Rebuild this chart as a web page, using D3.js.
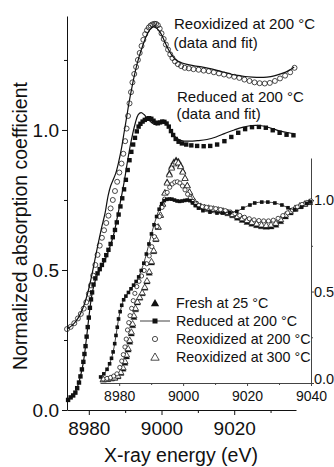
<!DOCTYPE html>
<html>
<head>
<meta charset="utf-8">
<script src="https://cdn.jsdelivr.net/npm/d3@7"></script>
<style>
  html, body { margin: 0; padding: 0; background: #fff; }
  svg { display: block; }
</style>
</head>
<body>
<svg id="chart" width="334" height="467"></svg>
<script>
// ---------- Main panel: Cu K-edge XANES, data (markers) and fits (lines) ----------
// [energy (eV), normalized absorption]
const reducedData = [
  [8974.3,0.036],[8975.0,0.045],[8975.7,0.052],[8976.3,0.062],[8976.8,0.078],[8977.3,0.098],
  [8977.7,0.12],[8978.1,0.145],[8978.5,0.172],[8978.8,0.2],[8979.1,0.228],[8979.4,0.262],
  [8979.7,0.296],[8980.0,0.33],[8980.3,0.365],[8980.6,0.395],[8980.9,0.42],[8981.3,0.448],
  [8981.8,0.47],[8982.4,0.488],[8983.0,0.503],[8983.6,0.518],[8984.2,0.535],[8984.8,0.553],
  [8985.4,0.572],[8986.0,0.593],[8986.6,0.617],[8987.2,0.643],[8987.7,0.67],[8988.2,0.698],
  [8988.7,0.727],[8989.2,0.756],[8989.7,0.788],[8990.2,0.822],[8990.7,0.857],[8991.2,0.892],
  [8991.7,0.922],[8992.2,0.948],[8992.7,0.972],[8993.2,0.995],[8993.7,1.012],[8994.2,1.022],
  [8994.8,1.03],[8995.4,1.036],[8996.0,1.04],[8996.6,1.042],[8997.2,1.04],[8997.8,1.033],
  [8998.4,1.026],[8999.0,1.024],[8999.6,1.027],[9000.2,1.03],[9000.8,1.029],[9001.4,1.023],
  [9002.0,1.012],[9002.6,0.996],[9003.2,0.982],[9003.9,0.968],[9004.7,0.958],[9005.6,0.952],
  [9006.8,0.948],[9008.2,0.945],[9009.8,0.943],[9011.6,0.942],[9013.4,0.943],[9015.3,0.948],
  [9017.3,0.96],[9019.2,0.975],[9021.1,0.99],[9023.0,1.003],[9024.9,1.01],[9026.8,1.011],
  [9028.7,1.008],[9030.6,0.999],[9032.5,0.99],[9034.4,0.983],[9036.3,0.981]
];
const reducedFit = [
  [8974.0,0.034],[8975.5,0.05],[8976.5,0.07],[8977.5,0.11],[8978.5,0.17],[8979.3,0.25],
  [8980.0,0.33],[8980.7,0.4],[8981.4,0.445],[8982.2,0.478],[8983.2,0.505],[8984.4,0.535],
  [8985.6,0.575],[8986.8,0.625],[8987.8,0.685],[8988.8,0.75],[8989.8,0.82],[8990.8,0.9],
  [8991.8,0.97],[8992.8,1.025],[8993.6,1.055],[8994.4,1.062],[8995.2,1.055],[8996.2,1.04],
  [8997.4,1.025],[8998.6,1.018],[8999.8,1.025],[9000.8,1.028],[9001.8,1.017],[9002.8,0.995],
  [9004.0,0.972],[9005.5,0.962],[9007.5,0.96],[9010.0,0.962],[9012.5,0.966],[9015.0,0.975],
  [9017.5,0.988],[9020.0,1.0],[9022.5,1.01],[9025.0,1.016],[9027.5,1.015],[9030.0,1.007],
  [9032.5,0.997],[9035.0,0.99],[9036.5,0.987]
];
const reoxData = [
  [8974.0,0.289],[8975.0,0.297],[8976.0,0.31],[8977.0,0.327],[8977.8,0.343],[8978.6,0.362],
  [8979.3,0.385],[8980.0,0.415],[8980.6,0.445],[8981.2,0.48],[8981.8,0.518],[8982.4,0.554],
  [8983.0,0.587],[8983.6,0.615],[8984.2,0.642],[8984.8,0.668],[8985.4,0.694],[8986.0,0.72],
  [8986.6,0.75],[8987.2,0.782],[8987.8,0.815],[8988.4,0.848],[8989.0,0.88],[8989.5,0.915],
  [8990.0,0.96],[8990.4,1.005],[8990.8,1.05],[8991.2,1.095],[8991.6,1.135],[8992.0,1.17],
  [8992.5,1.2],[8993.0,1.225],[8993.5,1.25],[8994.0,1.275],[8994.5,1.3],[8995.0,1.322],
  [8995.5,1.342],[8996.0,1.356],[8996.5,1.366],[8997.0,1.373],[8997.5,1.377],[8998.0,1.379],
  [8998.5,1.379],[8999.0,1.374],[8999.5,1.362],[9000.0,1.345],[9000.6,1.325],[9001.2,1.305],
  [9001.8,1.287],[9002.4,1.27],[9003.0,1.257],[9003.7,1.245],[9004.5,1.235],[9005.4,1.228],
  [9006.4,1.222],[9007.5,1.22],[9008.8,1.217],[9010.2,1.215],[9011.6,1.212],[9013.0,1.21],
  [9014.4,1.206],[9015.8,1.202],[9017.2,1.198],[9018.6,1.194],[9020.0,1.19],[9021.4,1.186],
  [9022.8,1.18],[9024.2,1.175],[9025.6,1.17],[9027.0,1.167],[9028.4,1.166],[9029.8,1.168],
  [9031.2,1.175],[9032.6,1.184],[9034.0,1.194],[9035.4,1.206],[9036.6,1.222]
];
const reoxFit = [
  [8974.0,0.289],[8975.5,0.303],[8977.0,0.327],[8978.5,0.368],[8979.5,0.408],[8980.5,0.462],
  [8981.5,0.525],[8982.5,0.59],[8983.5,0.65],[8984.5,0.705],[8985.3,0.765],[8986.0,0.8],
  [8986.7,0.822],[8987.4,0.845],[8988.2,0.885],[8989.0,0.935],[8989.7,0.99],[8990.4,1.045],
  [8991.1,1.1],[8991.9,1.155],[8992.8,1.21],[8993.8,1.26],[8994.8,1.3],[8995.8,1.335],
  [8996.8,1.358],[8997.8,1.368],[8998.8,1.362],[8999.8,1.345],[9000.8,1.318],[9001.8,1.29],
  [9002.8,1.268],[9004.0,1.25],[9005.5,1.24],[9007.0,1.234],[9009.0,1.229],[9011.0,1.225],
  [9013.0,1.22],[9015.0,1.214],[9017.0,1.207],[9019.0,1.2],[9021.0,1.195],[9023.0,1.191],
  [9025.0,1.189],[9027.0,1.188],[9029.0,1.189],[9031.0,1.193],[9033.0,1.201],[9035.0,1.212],
  [9036.5,1.225]
];

// ---------- Inset: four treatments ----------
const insetReduced = [
  [8974.2,0.033],[8975.2,0.05],[8976.2,0.075],[8977.0,0.105],[8977.6,0.135],[8978.1,0.17],
  [8978.6,0.215],[8979.0,0.26],[8979.4,0.305],[8979.8,0.35],[8980.3,0.39],[8980.8,0.425],
  [8981.4,0.455],[8982.1,0.475],[8982.9,0.495],[8983.7,0.515],[8984.5,0.535],[8985.3,0.555],
  [8986.1,0.58],[8986.9,0.615],[8987.7,0.655],[8988.5,0.705],[8989.3,0.76],[8990.1,0.815],
  [8990.9,0.865],[8991.7,0.91],[8992.5,0.95],[8993.3,0.98],[8994.1,0.997],[8994.9,1.004],
  [8995.7,1.006],[8996.5,1.005],[8997.3,1.0],[8998.1,0.995],[8998.9,0.993],[8999.7,0.995],
  [9000.5,0.998],[9001.3,1.0],[9002.1,0.997],[9002.9,0.985],[9003.8,0.97],[9004.8,0.956],
  [9006.2,0.942],[9008.4,0.934],[9010.6,0.929],[9012.4,0.929],[9014.6,0.932],[9016.8,0.938],
  [9018.7,0.956],[9020.9,0.973],[9022.4,0.984],[9024.6,0.989],[9026.5,0.989],[9028.7,0.984],
  [9030.9,0.973],[9032.8,0.958],[9034.9,0.948],[9037.1,0.962],[9038.7,0.982],[9039.8,0.99]
];
const insetFresh = [
  [8975.0,0.018],[8976.3,0.02],[8977.5,0.024],[8978.6,0.028],[8979.6,0.036],[8980.5,0.054],
  [8981.2,0.078],[8981.8,0.11],[8982.3,0.145],[8982.8,0.182],[8983.3,0.225],[8983.8,0.27],
  [8984.2,0.315],[8984.6,0.36],[8985.1,0.402],[8985.7,0.44],[8986.4,0.466],[8987.2,0.49],
  [8988.0,0.52],[8988.7,0.555],[8989.4,0.602],[8990.1,0.658],[8990.8,0.72],[8991.5,0.786],
  [8992.2,0.852],[8992.9,0.918],[8993.6,0.98],[8994.3,1.042],[8995.0,1.1],[8995.7,1.148],
  [8996.4,1.186],[8997.1,1.21],[8997.8,1.22],[8998.5,1.214],[8999.2,1.192],[8999.9,1.16],
  [9000.6,1.122],[9001.3,1.082],[9002.0,1.045],[9002.8,1.013],[9003.6,0.99],[9004.5,0.975],
  [9005.5,0.965],[9006.7,0.958],[9008.0,0.954],[9009.5,0.949],[9011.0,0.943],[9012.5,0.936],
  [9014.0,0.927],[9015.5,0.916],[9017.0,0.903],[9018.5,0.891],[9020.0,0.88],[9021.5,0.87],
  [9023.0,0.862],[9024.5,0.856],[9026.0,0.853],[9027.5,0.855],[9029.0,0.864],[9030.5,0.884],
  [9032.0,0.91],[9033.5,0.932],[9035.0,0.951],[9036.5,0.966],[9038.0,0.978],[9039.5,0.988]
];
const insetReox200 = [
  [8975.0,0.022],[8976.2,0.025],[8977.3,0.03],[8978.3,0.038],[8979.3,0.05],[8980.2,0.085],
  [8980.8,0.12],[8981.3,0.155],[8981.8,0.197],[8982.2,0.24],[8982.6,0.29],[8983.0,0.33],
  [8983.4,0.368],[8983.9,0.408],[8984.4,0.45],[8984.9,0.49],[8985.5,0.527],[8986.2,0.556],
  [8987.0,0.585],[8987.8,0.615],[8988.6,0.652],[8989.4,0.695],[8990.2,0.745],[8991.0,0.8],
  [8991.8,0.855],[8992.6,0.91],[8993.4,0.96],[8994.2,1.005],[8995.0,1.042],[8995.8,1.07],
  [8996.6,1.088],[8997.4,1.098],[8998.2,1.1],[8999.0,1.093],[8999.8,1.077],[9000.6,1.056],
  [9001.4,1.032],[9002.2,1.01],[9003.0,0.992],[9003.9,0.979],[9004.9,0.97],[9006.0,0.964],
  [9007.3,0.96],[9008.7,0.957],[9010.2,0.953],[9011.7,0.948],[9013.2,0.942],[9014.7,0.935],
  [9016.2,0.926],[9017.7,0.916],[9019.2,0.906],[9020.7,0.898],[9022.2,0.892],[9023.7,0.888],
  [9025.2,0.886],[9026.7,0.886],[9028.2,0.89],[9029.7,0.9],[9031.2,0.915],[9032.7,0.93],
  [9034.2,0.946],[9035.7,0.962],[9037.2,0.976],[9038.7,0.987],[9040.0,0.995]
];
const insetReox300 = [
  [8975.0,0.02],[8976.3,0.022],[8977.5,0.026],[8978.6,0.03],[8979.6,0.04],[8980.5,0.06],
  [8981.2,0.085],[8981.8,0.12],[8982.3,0.155],[8982.8,0.19],[8983.3,0.235],[8983.8,0.28],
  [8984.2,0.325],[8984.6,0.37],[8985.1,0.41],[8985.7,0.445],[8986.4,0.47],[8987.2,0.495],
  [8988.0,0.525],[8988.7,0.56],[8989.4,0.61],[8990.1,0.665],[8990.8,0.725],[8991.5,0.79],
  [8992.2,0.855],[8992.9,0.92],[8993.6,0.98],[8994.3,1.04],[8995.0,1.095],[8995.7,1.14],
  [8996.4,1.177],[8997.1,1.2],[8997.8,1.21],[8998.5,1.205],[8999.2,1.185],[8999.9,1.155],
  [9000.6,1.12],[9001.3,1.08],[9002.0,1.045],[9002.8,1.015],[9003.6,0.993],[9004.5,0.978],
  [9005.5,0.968],[9006.7,0.962],[9008.0,0.958],[9009.5,0.953],[9011.0,0.948],[9012.5,0.942],
  [9014.0,0.934],[9015.5,0.923],[9017.0,0.912],[9018.5,0.9],[9020.0,0.89],[9021.5,0.88],
  [9023.0,0.872],[9024.5,0.866],[9026.0,0.863],[9027.5,0.866],[9029.0,0.875],[9030.5,0.895],
  [9032.0,0.92],[9033.5,0.94],[9035.0,0.957],[9036.5,0.97],[9038.0,0.98],[9039.5,0.99]
];

// ---------- Ticks and labels ----------
const mainXTicks = [8980, 9000, 9020];
const mainXMinor = [8990, 9010, 9030];
const mainYTicks = [0.0, 0.5, 1.0];
const mainYMinor = [0.25, 0.75, 1.25];
const insetXTicks = [8980, 9000, 9020, 9040];
const insetXMinor = [8990, 9010, 9030];
const insetYTicks = [0.0, 0.5, 1.0];
const insetYMinor = [0.25, 0.75];
const xTitle = "X-ray energy (eV)";
const yTitle = "Normalized absorption coefficient";
const curveNotes = [
  ["Reoxidized at 200 °C", "(data and fit)"],
  ["Reduced at 200 °C", "(data and fit)"]
];
const legendLabels = ["Fresh at 25 °C", "Reduced at 200 °C", "Reoxidized at 200 °C", "Reoxidized at 300 °C"];

// ---------- Drawing ----------
const FONT = "'Liberation Sans', Arial, Helvetica, sans-serif";
const INK = "#111";
const svg = d3.select("#chart");

const x = d3.scaleLinear().domain([8974, 9037]).range([67, 296]);
const y = d3.scaleLinear().domain([0, 1.407]).range([410, 16]);
const xi = d3.scaleLinear().domain([8974, 9040]).range([100, 311]);
const yi = d3.scaleLinear().domain([0, 1.23]).range([383, 158]);

function finishAxis(g, fontSize, color) {
  g.attr("font-family", FONT).attr("font-size", fontSize);
  g.select(".domain").attr("stroke", color).attr("stroke-width", 1);
  g.selectAll(".tick line").attr("stroke", color).attr("stroke-width", 1);
  g.selectAll(".tick text").attr("fill", INK);
}

// main axes
const gx = svg.append("g").attr("transform", "translate(0,410)")
  .call(d3.axisBottom(x).tickValues(mainXTicks).tickFormat(d3.format("d"))
    .tickSize(5).tickSizeOuter(0).tickPadding(7));
finishAxis(gx, 19, INK);
const gxm = svg.append("g").attr("transform", "translate(0,410)")
  .call(d3.axisBottom(x).tickValues(mainXMinor).tickFormat("").tickSize(3).tickSizeOuter(0));
gxm.select(".domain").remove();
gxm.selectAll(".tick line").attr("stroke", INK);

const gy = svg.append("g").attr("transform", "translate(67,0)")
  .call(d3.axisLeft(y).tickValues(mainYTicks).tickFormat(d3.format(".1f"))
    .tickSize(5).tickSizeOuter(0).tickPadding(3));
finishAxis(gy, 19, INK);
const gym = svg.append("g").attr("transform", "translate(67,0)")
  .call(d3.axisLeft(y).tickValues(mainYMinor).tickFormat("").tickSize(3).tickSizeOuter(0));
gym.select(".domain").remove();
gym.selectAll(".tick line").attr("stroke", INK);

// inset axes (bottom and right only)
const INSET_INK = "#444";
const gxi = svg.append("g").attr("transform", "translate(0,383)")
  .call(d3.axisBottom(xi).tickValues(insetXTicks).tickFormat(d3.format("d"))
    .tickSize(3).tickSizeOuter(0).tickPadding(5));
finishAxis(gxi, 14, INSET_INK);
const gxim = svg.append("g").attr("transform", "translate(0,383)")
  .call(d3.axisBottom(xi).tickValues(insetXMinor).tickFormat("").tickSize(2).tickSizeOuter(0));
gxim.select(".domain").remove();
gxim.selectAll(".tick line").attr("stroke", INSET_INK);

const gyi = svg.append("g").attr("transform", "translate(311,0)")
  .call(d3.axisRight(yi).tickValues(insetYTicks).tickFormat(d3.format(".1f"))
    .tickSize(3).tickSizeOuter(0).tickPadding(0));
finishAxis(gyi, 14.5, INSET_INK);
// the bottom label of the right scale sits just above the axis corner
gyi.selectAll(".tick text").filter(d => d === 0).attr("dy", "0.05em");
const gyim = svg.append("g").attr("transform", "translate(311,0)")
  .call(d3.axisRight(yi).tickValues(insetYMinor).tickFormat("").tickSize(2).tickSizeOuter(0));
gyim.select(".domain").remove();
gyim.selectAll(".tick line").attr("stroke", INSET_INK);

// marker helpers
function squares(g, data, sx, sy, side) {
  g.selectAll(null).data(data).enter().append("rect")
    .attr("x", d => sx(d[0]) - side / 2).attr("y", d => sy(d[1]) - side / 2)
    .attr("width", side).attr("height", side).attr("fill", INK);
}
function circles(g, data, sx, sy, r, fill) {
  g.selectAll(null).data(data).enter().append("circle")
    .attr("cx", d => sx(d[0])).attr("cy", d => sy(d[1])).attr("r", r)
    .attr("fill", fill).attr("stroke", INK).attr("stroke-width", 0.75);
}
function triangles(g, data, sx, sy, area, filled) {
  const sym = d3.symbol().type(d3.symbolTriangle).size(area);
  g.selectAll(null).data(data).enter().append("path")
    .attr("d", sym)
    .attr("transform", d => `translate(${sx(d[0])},${sy(d[1]) + 0.6})`)
    .attr("fill", filled ? INK : "#fff").attr("stroke", INK).attr("stroke-width", filled ? 0.3 : 0.75);
}
function curve(g, data, sx, sy, width) {
  const line = d3.line().x(d => sx(d[0])).y(d => sy(d[1])).curve(d3.curveCatmullRom.alpha(0.5));
  g.append("path").datum(data).attr("d", line)
    .attr("fill", "none").attr("stroke", INK).attr("stroke-width", width)
    .attr("stroke-linejoin", "round");
}

// inset curves
const inset = svg.append("g");
triangles(inset, insetFresh, xi, yi, 17, true);
triangles(inset, insetReox300, xi, yi, 17, false);
circles(inset, insetReox200, xi, yi, 2.1, "#fff");
curve(inset, insetReduced, xi, yi, 0.8);
squares(inset, insetReduced, xi, yi, 3.6);

// main curves
const main = svg.append("g");
circles(main, reoxData, x, y, 2.5, "none");
squares(main, reducedData, x, y, 4.4);
curve(main, reoxFit, x, y, 1.2);
curve(main, reducedFit, x, y, 1.2);

// annotations next to the main curves
const notes = svg.append("g").attr("font-family", FONT).attr("font-size", 15).attr("fill", INK);
const notePos = [[174, 29, 48], [177, 101.5, 118.5]];
curveNotes.forEach((lines, i) => {
  notes.append("text").attr("x", notePos[i][0]).attr("y", notePos[i][1]).text(lines[0]);
  notes.append("text").attr("x", notePos[i][0] - 0.5).attr("y", notePos[i][2]).text(lines[1]);
});

// inset legend
const legend = svg.append("g").attr("font-family", FONT).attr("font-size", 14.3).attr("fill", INK);
const legendY = [303, 321, 339, 357];
const lx = 155;
legend.append("path").attr("d", d3.symbol().type(d3.symbolTriangle).size(30)())
  .attr("transform", `translate(${lx},${legendY[0] + 0.8})`).attr("fill", INK);
legend.append("line").attr("x1", 140).attr("x2", 170).attr("y1", legendY[1]).attr("y2", legendY[1])
  .attr("stroke", INK).attr("stroke-width", 0.8);
legend.append("rect").attr("x", lx - 2.5).attr("y", legendY[1] - 2.5).attr("width", 5).attr("height", 5).attr("fill", INK);
legend.append("circle").attr("cx", lx).attr("cy", legendY[2]).attr("r", 2.6)
  .attr("fill", "#fff").attr("stroke", INK).attr("stroke-width", 0.75);
legend.append("path").attr("d", d3.symbol().type(d3.symbolTriangle).size(30)())
  .attr("transform", `translate(${lx},${legendY[3] + 0.8})`).attr("fill", "#fff")
  .attr("stroke", INK).attr("stroke-width", 0.75);
legendLabels.forEach((t, i) => {
  legend.append("text").attr("x", 176).attr("y", legendY[i] + 5.2).text(t);
});

// axis titles
svg.append("text").attr("x", 181).attr("y", 462).attr("text-anchor", "middle")
  .attr("font-family", FONT).attr("font-size", 19.5).attr("fill", INK).text(xTitle);
svg.append("text").attr("transform", "translate(27,226) rotate(-90)").attr("text-anchor", "middle")
  .attr("font-family", FONT).attr("font-size", 19.5).attr("fill", INK).text(yTitle);
</script>
</body>
</html>
